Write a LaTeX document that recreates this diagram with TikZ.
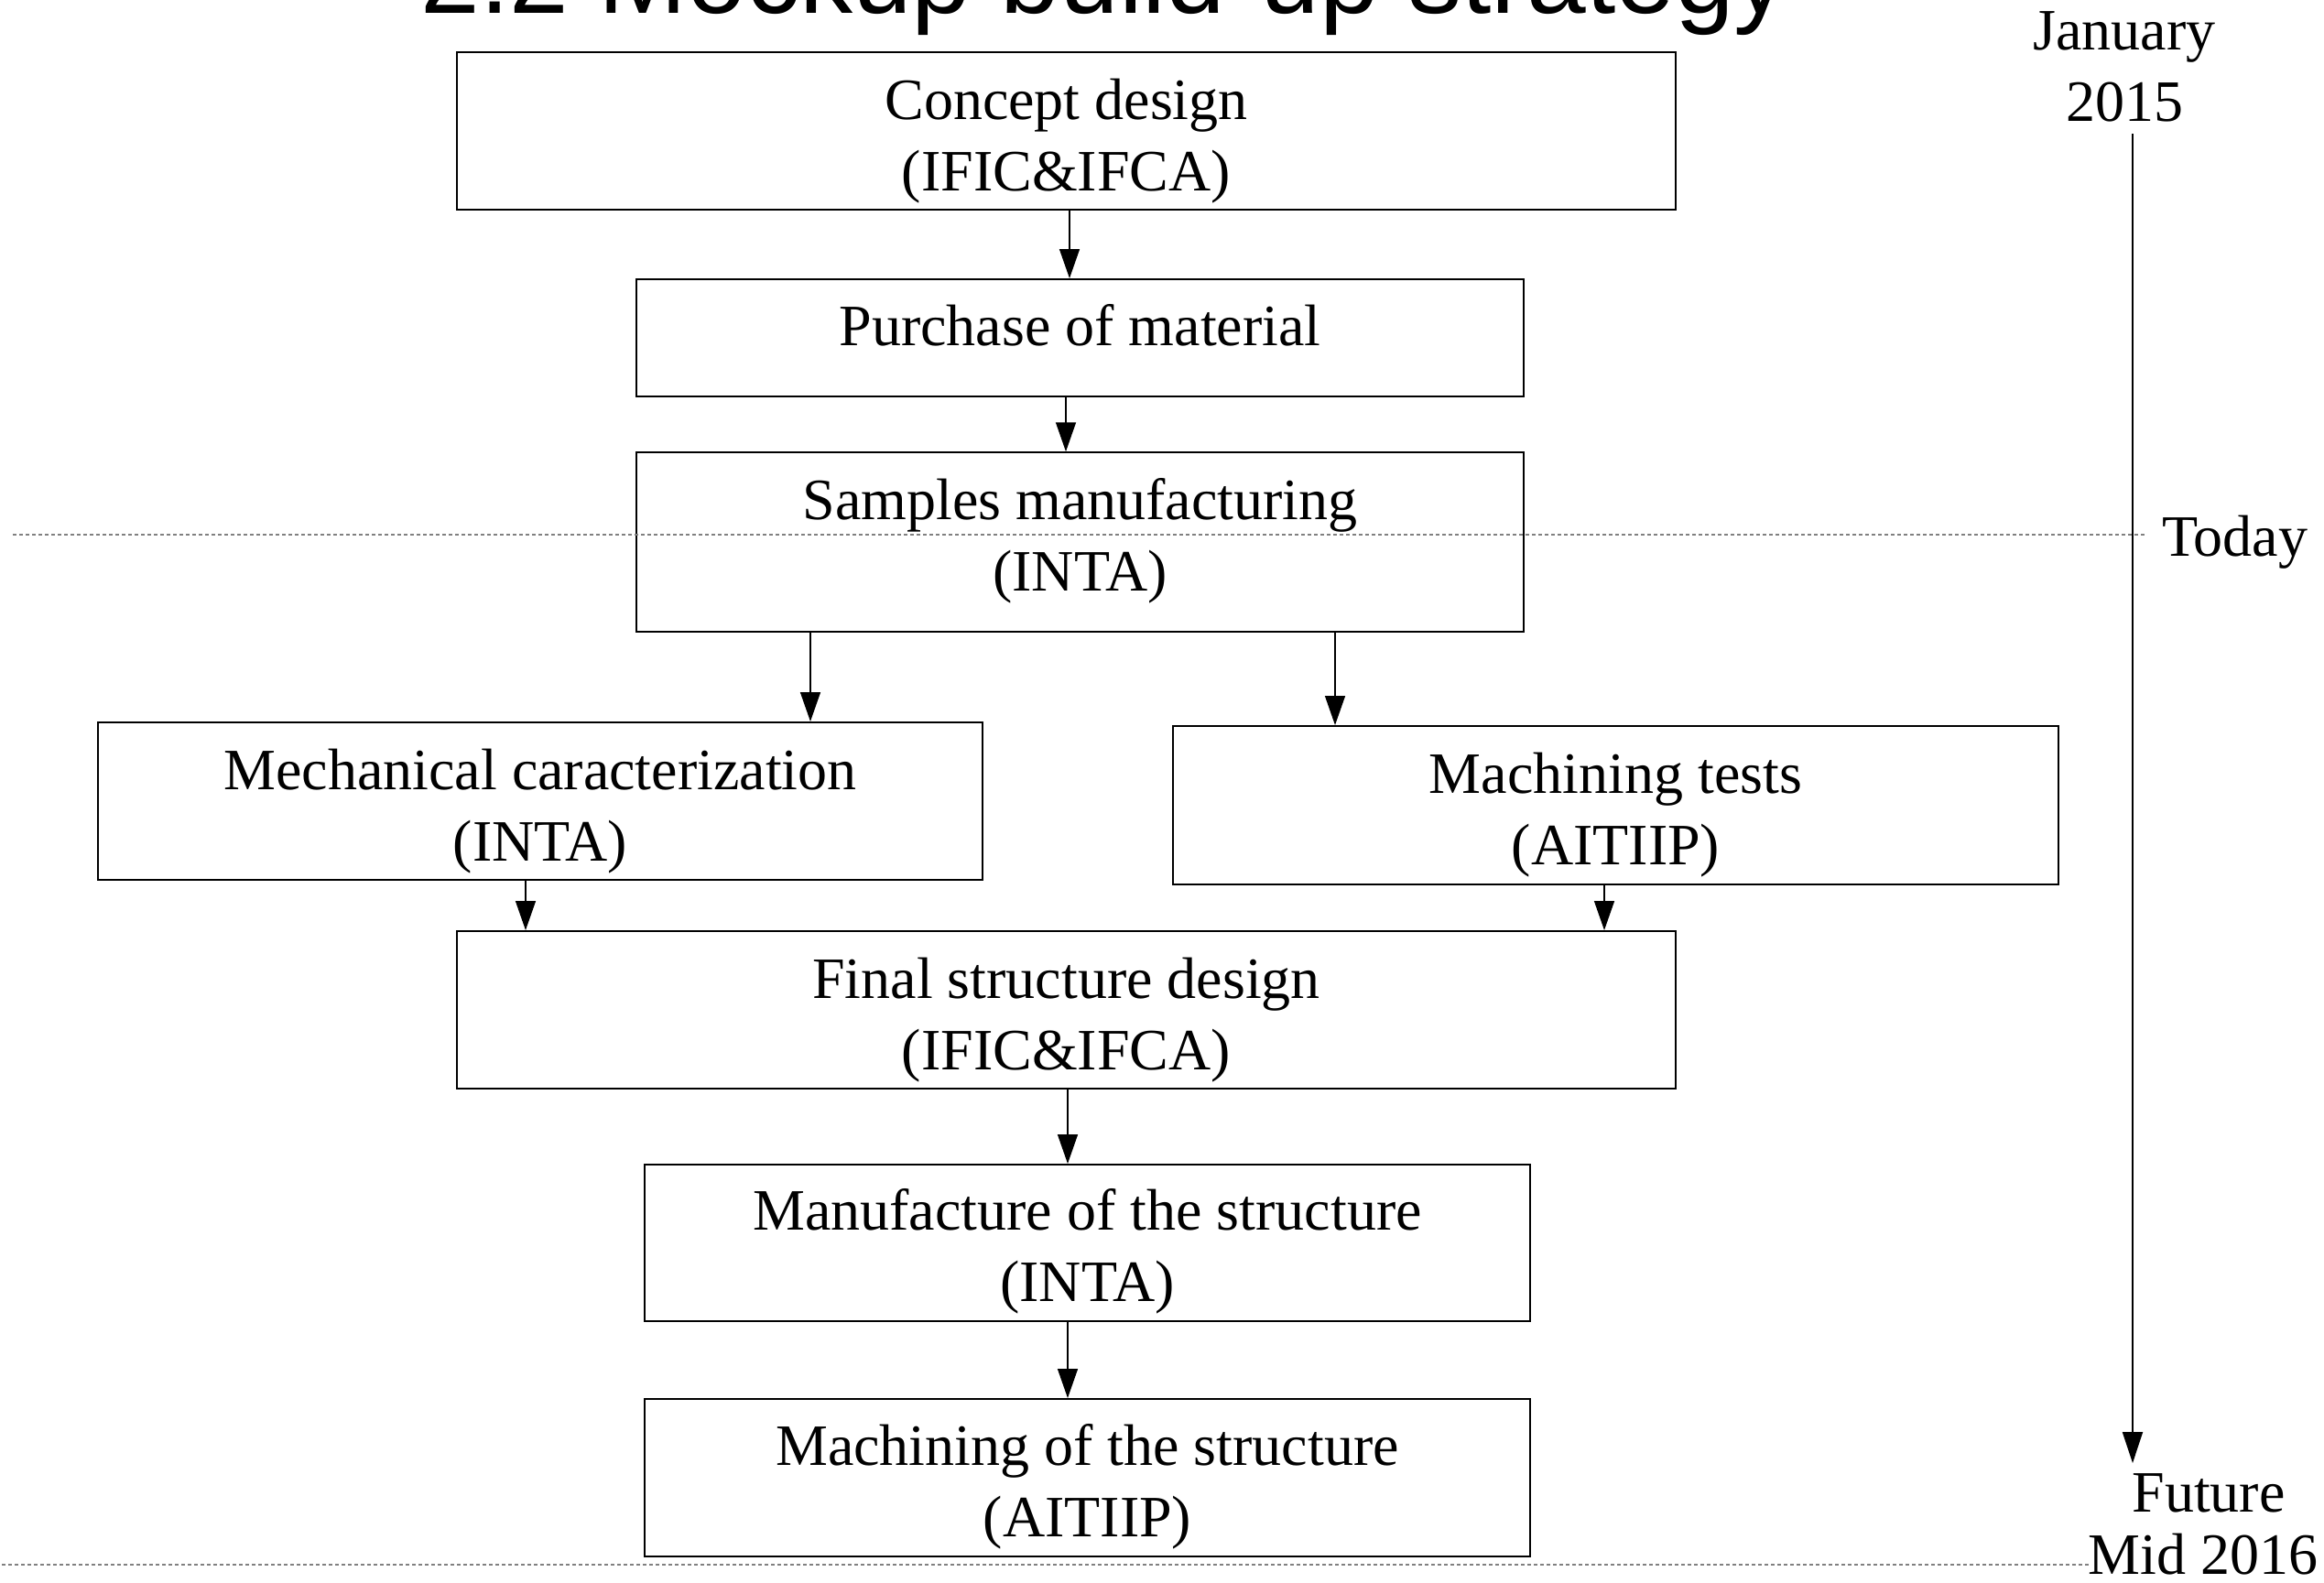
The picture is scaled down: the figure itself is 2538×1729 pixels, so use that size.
\documentclass[tikz,border=0pt]{standalone}
\usepackage{fontspec}
\setmainfont{Liberation Serif}
\newfontfamily\titlefont{Liberation Sans}
\usetikzlibrary{arrows.meta}
\newcommand\bodyfont{\fontsize{64}{78}\selectfont}
\newcommand\tstrut{\rule{0pt}{50pt}}
\begin{document}
\begin{tikzpicture}[x=1pt,y=-1pt,
  box/.style={draw, line width=2pt, inner sep=0pt},
  txt/.style={inner sep=0pt, anchor=north, align=center, font=\bodyfont},
  lbl/.style={inner sep=0pt, font=\bodyfont},
  arr/.style={line width=1.5pt, -{Triangle[length=32pt,width=22pt]}},
  dots/.style={gray, line width=1.5pt, dash pattern=on 4pt off 3pt}]
\useasboundingbox (0,0) rectangle (2538,1729);
% title (cut off at the top edge, as in the reference)
\node[anchor=base, inner sep=0pt, font=\titlefont\fontsize{116.2}{130}\selectfont] (title) at (1206,14) {2.2 Mockup build-up strategy};
% boxes
\node[box, minimum width=1331pt, minimum height=172pt] (b1) at (1164.5,143) {};
\node[box, minimum width=969pt, minimum height=128pt] (b2) at (1179.5,369) {};
\node[box, minimum width=969pt, minimum height=195.5pt] (b3) at (1179.5,592) {};
\node[box, minimum width=966pt, minimum height=172pt] (b4) at (590,875) {};
\node[box, minimum width=967pt, minimum height=173pt] (b5) at (1764.5,879.5) {};
\node[box, minimum width=1331pt, minimum height=172pt] (b6) at (1164.5,1103) {};
\node[box, minimum width=967pt, minimum height=171pt] (b7) at (1187.5,1357.5) {};
\node[box, minimum width=967pt, minimum height=172pt] (b8) at (1187.5,1614) {};
% texts
\node[txt] (t1) at ([yshift=-24.5pt]b1.north) {\tstrut Concept design\\(IFIC\&IFCA)};
\node[txt] (t2) at ([yshift=-23.5pt]b2.north) {\tstrut Purchase of material};
\node[txt] (t3) at ([yshift=-24pt]b3.north) {\tstrut Samples manufacturing\\(INTA)};
\node[txt] (t4) at ([yshift=-24.5pt]b4.north) {\tstrut Mechanical caracterization\\(INTA)};
\node[txt] (t5) at ([yshift=-24.5pt]b5.north) {\tstrut Machining tests\\(AITIIP)};
\node[txt] (t6) at ([yshift=-24.5pt]b6.north) {\tstrut Final structure design\\(IFIC\&IFCA)};
\node[txt] (t7) at ([yshift=-22.5pt]b7.north) {\tstrut Manufacture of the structure\\(INTA)};
\node[txt] (t8) at ([yshift=-23.5pt]b8.north) {\tstrut Machining of the structure\\(AITIIP)};
% connectors
\draw[arr] ([xshift=3.5pt]b1.south) -- ([xshift=3.5pt]b1.south |- b2.north);
\draw[arr] ([xshift=-15.5pt]b2.south) -- ([xshift=-15.5pt]b2.south |- b3.north);
\draw[arr] ([xshift=-294.5pt]b3.south) -- ([xshift=-294.5pt]b3.south |- b4.north);
\draw[arr] ([xshift=278.5pt]b3.south) -- ([xshift=278.5pt]b3.south |- b5.north);
\draw[arr] ([xshift=-16pt]b4.south) -- ([xshift=-16pt]b4.south |- b6.north);
\draw[arr] ([xshift=-12.5pt]b5.south) -- ([xshift=-12.5pt]b5.south |- b6.north);
\draw[arr] ([xshift=1.5pt]b6.south) -- ([xshift=1.5pt]b6.south |- b7.north);
\draw[arr] ([xshift=-21.5pt]b7.south) -- ([xshift=-21.5pt]b7.south |- b8.north);
% time line
\node[txt] (jan) at (2320,4.5) {\tstrut January\\2015};
\node[lbl, anchor=base west] (today) at (2361,607) {Today};
\node[lbl, anchor=base] (future) at (2412,1651) {Future};
\node[lbl, anchor=base] (mid) at (2406,1719) {Mid 2016};
\coordinate (tl0) at (2329,146);
\coordinate (tl1) at (2329,1598);
\draw[line width=2pt, -{Triangle[length=34pt,width=22pt]}] (tl0) -- (tl1);
% dotted lines
\coordinate (d1a) at (14,584);
\coordinate (d1b) at (2343,584);
\draw[dots] (d1a) -- (d1b);
\coordinate (d2a) at (2,1709);
\coordinate (d2b) at (2282,1709);
\draw[dots] (d2a) -- (d2b);
\end{tikzpicture}
\end{document}
